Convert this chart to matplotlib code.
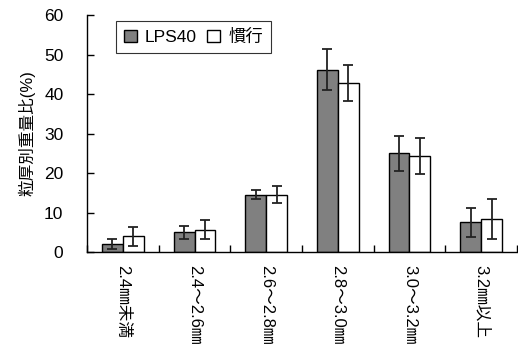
import matplotlib
matplotlib.use("Agg")
import matplotlib.pyplot as plt
import numpy as np

plt.rcParams['font.family'] = ['Liberation Sans', 'Noto Sans CJK JP', 'DejaVu Sans']

categories = ["2.4㎜未満", "2.4～2.6㎜", "2.6～2.8㎜", "2.8～3.0㎜", "3.0～3.2㎜", "3.2㎜以上"]
lps40 = [2.0, 5.0, 14.5, 46.2, 25.0, 7.5]
lps40_err = [1.3, 1.7, 1.1, 5.2, 4.4, 3.7]
kanko = [4.0, 5.7, 14.5, 42.8, 24.3, 8.4]
kanko_err = [2.4, 2.4, 2.1, 4.6, 4.6, 5.1]
yticks = [0, 10, 20, 30, 40, 50, 60]

fig = plt.figure(figsize=(5.18, 3.59), dpi=100)
ax = fig.add_axes([0.168, 0.298, 0.830, 0.660])

x = np.arange(len(categories))
w = 0.29
ekw = dict(ecolor='#222222', elinewidth=1.3, capsize=3.5, capthick=1.3)
ax.bar(x - w/2, lps40, w, yerr=lps40_err, color='#808080', edgecolor='black',
       linewidth=1.0, error_kw=ekw, label='LPS40')
ax.bar(x + w/2, kanko, w, yerr=kanko_err, color='white', edgecolor='black',
       linewidth=1.0, error_kw=ekw, label='慣行')

ax.set_xlim(-0.5, len(categories) - 0.5)
ax.set_ylim(0, 60)
ax.set_yticks(yticks)
ax.set_yticklabels([str(v) for v in yticks], fontsize=12.5)
ax.set_xticks(np.arange(len(categories) + 1) - 0.5, minor=False)
ax.set_xticklabels([])
ax.set_xticks(x, minor=True)
ax.set_xticklabels(categories, minor=True, rotation=270, fontsize=12,
                   va='top', ha='center')
ax.tick_params(axis='x', which='major', direction='in', length=5, width=1)
ax.tick_params(axis='x', which='minor', length=0, pad=9)
ax.tick_params(axis='y', direction='in', length=5, width=1, pad=17)
ax.spines['top'].set_visible(False)
ax.spines['right'].set_visible(False)
ax.spines['left'].set_linewidth(1.0)
ax.spines['bottom'].set_linewidth(1.0)

ax.set_ylabel('粒厚別重量比(%)', fontsize=12, labelpad=6)

leg = ax.legend(loc='upper left', bbox_to_anchor=(0.068, 0.975), ncol=2,
                frameon=True, fancybox=False, edgecolor='black', fontsize=12.5,
                handlelength=0.75, handleheight=0.75, handletextpad=0.45,
                columnspacing=0.6, borderpad=0.45, borderaxespad=0)
leg.get_frame().set_linewidth(0.8)

fig.savefig('out.png', dpi=100)
